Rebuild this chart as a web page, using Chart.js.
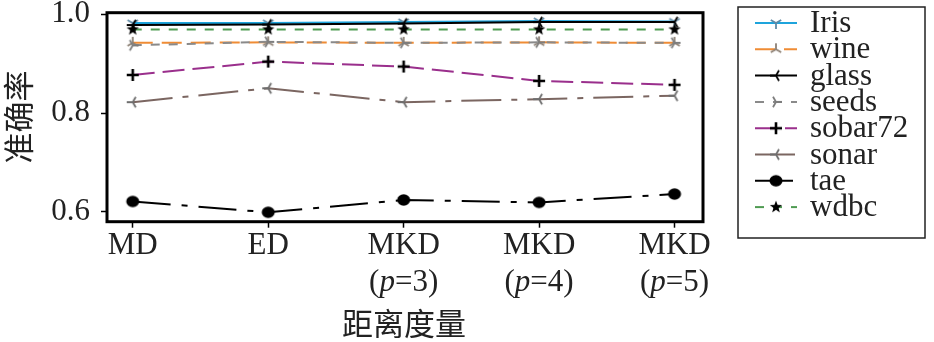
<!DOCTYPE html>
<html>
<head>
<meta charset="utf-8">
<script src="https://cdn.jsdelivr.net/npm/chart.js@4.4.1/dist/chart.umd.min.js"></script>
<style>
  html, body { margin: 0; padding: 0; background: #fff; }
  #wrap { width: 934px; height: 342px; }
</style>
</head>
<body>
<div id="wrap"><canvas id="acc" width="934" height="342"></canvas></div>
<script>
// distance measures on the x axis (second line drawn with an italic p)
const categories = [["MD"], ["ED"], ["MKD", "(p=3)"], ["MKD", "(p=4)"], ["MKD", "(p=5)"]];
const yTicks = [0.6, 0.8, 1.0];

const seriesNames = ["Iris", "wine", "glass", "seeds", "sobar72", "sonar", "tae", "wdbc"];
const irisAcc = [0.982, 0.982, 0.984, 0.986, 0.985];
const wineAcc = [0.942, 0.943, 0.942, 0.943, 0.942];
const glassAcc = [0.978, 0.979, 0.981, 0.984, 0.984];
const seedsAcc = [0.937, 0.944, 0.942, 0.943, 0.942];
const sobarAcc = [0.877, 0.904, 0.894, 0.865, 0.857];
const sonarAcc = [0.822, 0.850, 0.822, 0.828, 0.835];
const taeAcc = [0.621, 0.599, 0.624, 0.619, 0.636];
const wdbcAcc = [0.969, 0.969, 0.969, 0.969, 0.969];
const seriesValues = [irisAcc, wineAcc, glassAcc, seedsAcc, sobarAcc, sonarAcc, taeAcc, wdbcAcc];

const SERIF = "'Liberation Serif', 'DejaVu Serif', serif";
const CJK = "'Noto Sans CJK SC', sans-serif";

// small canvases used as point styles (matplotlib-like tri / plus / star markers)
const makeMarker = (kind, color) => {
  const size = 16;
  const c = document.createElement("canvas");
  c.width = size;
  c.height = size;
  const g = c.getContext("2d");
  const m = size / 2;
  const r = 6;
  g.strokeStyle = color;
  g.fillStyle = color;
  g.lineWidth = 1.8;
  g.lineCap = "butt";
  const arms = (pts) => {
    g.beginPath();
    pts.forEach(([dx, dy]) => {
      g.moveTo(m, m);
      g.lineTo(m + dx * r, m + dy * r);
    });
    g.stroke();
  };
  if (kind === "triDown") arms([[0, 1], [-0.87, -0.5], [0.87, -0.5]]);
  if (kind === "triUp") arms([[0, -1], [-0.87, 0.5], [0.87, 0.5]]);
  if (kind === "triLeft") arms([[-1, 0], [0.5, -0.87], [0.5, 0.87]]);
  if (kind === "triRight") arms([[1, 0], [-0.5, -0.87], [-0.5, 0.87]]);
  if (kind === "plus") {
    g.lineWidth = 2.6;
    g.beginPath();
    g.moveTo(m - r, m);
    g.lineTo(m + r, m);
    g.moveTo(m, m - r);
    g.lineTo(m, m + r);
    g.stroke();
  }
  if (kind === "circle") {
    g.beginPath();
    g.ellipse(m, m, 6.5, 5.8, 0, 0, Math.PI * 2);
    g.fill();
  }
  if (kind === "star") {
    g.beginPath();
    for (let i = 0; i < 10; i++) {
      const rad = i % 2 === 0 ? 6.5 : 2.7;
      const a = -Math.PI / 2 + (i * Math.PI) / 5;
      const px = m + rad * Math.cos(a);
      const py = m + rad * Math.sin(a);
      if (i === 0) g.moveTo(px, py);
      else g.lineTo(px, py);
    }
    g.closePath();
    g.fill();
  }
  return c;
};

const lineColors = ["#1ea4dc", "#ef8c35", "#000000", "#8a8a8a", "#9a2f8c", "#7b6661", "#000000", "#4f9b52"];
const lineDashes = [[], [20, 9], [], [9, 9], [22, 8], [40, 10, 6, 10], [38, 11, 6, 11], [9, 9]];
const markers = [
  makeMarker("triDown", "#5f8aa6"),
  makeMarker("triUp", "#8d8175"),
  makeMarker("triLeft", "#000000"),
  makeMarker("triRight", "#7d7d7d"),
  makeMarker("plus", "#000000"),
  makeMarker("triLeft", "#6e6e6e"),
  makeMarker("circle", "#000000"),
  makeMarker("star", "#000000"),
];

const datasets = seriesNames.map((name, i) => ({
  label: name,
  data: seriesValues[i].map((v, k) => ({ x: k, y: v })),
  borderColor: lineColors[i],
  backgroundColor: lineColors[i],
  borderWidth: 2,
  borderDash: lineDashes[i],
  pointStyle: markers[i],
  pointRadius: 6,
  tension: 0,
  fill: false,
  order: seriesNames.length - i,
}));

// text with an italic "p" inside "(p=..)"
const drawTickLine = (ctx, text, cx, cy) => {
  const parts = text.startsWith("(")
    ? [["(", false], ["p", true], [text.slice(2), false]]
    : [[text, false]];
  const fontOf = (it) => (it ? "italic " : "") + "31px " + SERIF;
  let total = 0;
  parts.forEach(([t, it]) => {
    ctx.font = fontOf(it);
    total += ctx.measureText(t).width;
  });
  let x = cx - total / 2;
  ctx.textAlign = "left";
  ctx.textBaseline = "middle";
  parts.forEach(([t, it]) => {
    ctx.font = fontOf(it);
    ctx.fillText(t, x, cy);
    x += ctx.measureText(t).width;
  });
};

const decorations = {
  id: "decorations",
  afterDatasetsDraw(chart) {
    const { ctx, chartArea: a } = chart;
    ctx.save();
    ctx.strokeStyle = "#000";
    ctx.lineWidth = 3;
    ctx.strokeRect(a.left, a.top, a.right - a.left, a.bottom - a.top);
    ctx.restore();
  },
  afterDraw(chart) {
    const { ctx, scales } = chart;
    const xs = scales.x;
    const ys = scales.y;
    ctx.save();
    ctx.fillStyle = "#222";

    // y tick labels
    ctx.font = "31px " + SERIF;
    ctx.textAlign = "right";
    ctx.textBaseline = "middle";
    yTicks.forEach((v) => ctx.fillText(v.toFixed(1), 90, ys.getPixelForValue(v)));

    // x tick labels
    categories.forEach((lines, k) => {
      const cx = xs.getPixelForValue(k);
      lines.forEach((t, j) => drawTickLine(ctx, t, cx, 246 + j * 37));
    });

    // axis titles
    ctx.font = "31px " + CJK;
    ctx.textAlign = "center";
    ctx.textBaseline = "middle";
    ctx.fillText("距离度量", 404, 323);
    ctx.save();
    ctx.translate(18, 117);
    ctx.rotate(-Math.PI / 2);
    ctx.fillText("准确率", 0, 0);
    ctx.restore();

    // legend box
    const box = { left: 738, top: 7, right: 925, bottom: 238 };
    ctx.strokeStyle = "#222";
    ctx.lineWidth = 1.5;
    ctx.strokeRect(box.left, box.top, box.right - box.left, box.bottom - box.top);
    chart.data.datasets.forEach((ds, i) => {
      const cy = 23 + i * 26.3;
      ctx.save();
      ctx.strokeStyle = ds.borderColor;
      ctx.lineWidth = 2;
      ctx.setLineDash(ds.borderDash);
      ctx.beginPath();
      ctx.moveTo(755, cy);
      ctx.lineTo(797, cy);
      ctx.stroke();
      ctx.restore();
      const mk = ds.pointStyle;
      ctx.drawImage(mk, 776 - mk.width / 2, cy - mk.height / 2);
      ctx.font = "31px " + SERIF;
      ctx.textAlign = "left";
      ctx.textBaseline = "middle";
      ctx.fillStyle = "#222";
      ctx.fillText(ds.label, 810, cy + 1);
    });
    ctx.restore();
  },
};

new Chart(document.getElementById("acc"), {
  type: "line",
  data: { datasets },
  options: {
    responsive: false,
    animation: false,
    devicePixelRatio: 1,
    layout: { padding: { top: 12.7, right: 231, bottom: 0, left: 0 } },
    scales: {
      x: {
        type: "linear",
        min: -0.19,
        max: 4.21,
        afterBuildTicks: (scale) => {
          scale.ticks = categories.map((_, k) => ({ value: k }));
        },
        afterFit: (scale) => {
          scale.height = 342 - 221.7;
        },
        grid: {
          drawOnChartArea: false,
          drawTicks: true,
          tickLength: 6,
          tickColor: "#000",
          tickWidth: 1.5,
        },
        border: { display: false },
        ticks: { display: false },
      },
      y: {
        type: "linear",
        min: 0.58,
        max: 1.003,
        afterBuildTicks: (scale) => {
          scale.ticks = yTicks.map((v) => ({ value: v }));
        },
        afterFit: (scale) => {
          scale.width = 107;
        },
        grid: {
          drawOnChartArea: false,
          drawTicks: true,
          tickLength: 6,
          tickColor: "#000",
          tickWidth: 1.5,
        },
        border: { display: false },
        ticks: { display: false },
      },
    },
    plugins: {
      legend: { display: false },
      tooltip: { enabled: false },
    },
  },
  plugins: [decorations],
});
</script>
</body>
</html>
